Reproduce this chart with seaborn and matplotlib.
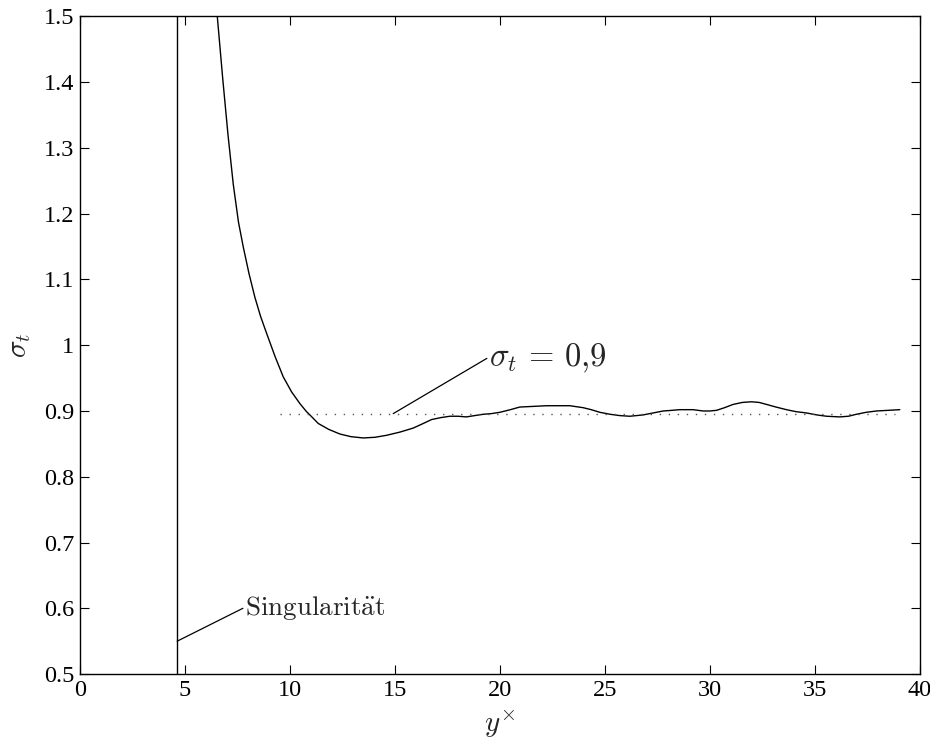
import matplotlib
matplotlib.use("Agg")
import matplotlib.pyplot as plt
import numpy as np
import pandas as pd
import seaborn as sns

# turbulent sigma_t over wall distance y^x
curve_x = [6.3, 6.54, 6.8, 7.05, 7.3, 7.55, 7.78, 8.05, 8.33, 8.6, 8.89, 9.29,
           9.68, 10.08, 10.48, 10.79, 10.95, 11.35, 11.85, 12.38, 12.9, 13.49,
           14.05, 14.6, 15.25, 15.87, 16.35, 16.75, 17.2, 17.62, 18.0, 18.41,
           18.8, 19.21, 19.6, 20.0, 20.5, 20.95, 21.6, 22.22, 22.8, 23.33,
           23.97, 24.35, 24.76, 25.25, 25.71, 26.19, 26.82, 27.3, 27.78, 28.2,
           28.57, 29.2, 29.68, 30.0, 30.32, 30.7, 31.11, 31.55, 31.98, 32.35,
           32.7, 33.15, 33.65, 34.1, 34.6, 35.1, 35.56, 36.19, 36.6, 36.98,
           37.45, 37.94, 38.5, 39.05]
curve_y = [1.59, 1.50, 1.405, 1.32, 1.245, 1.187, 1.149, 1.109, 1.073, 1.044, 1.018, 0.983,
           0.952, 0.929, 0.911, 0.899, 0.894, 0.881, 0.872, 0.865, 0.861, 0.859,
           0.860, 0.863, 0.868, 0.874, 0.881, 0.887, 0.890, 0.892, 0.892, 0.891,
           0.893, 0.895, 0.896, 0.898, 0.902, 0.906, 0.907, 0.908, 0.908, 0.908,
           0.905, 0.902, 0.898, 0.895, 0.893, 0.892, 0.894, 0.897, 0.900, 0.901,
           0.902, 0.902, 0.900, 0.900, 0.901, 0.905, 0.910, 0.913, 0.914, 0.913,
           0.910, 0.906, 0.902, 0.899, 0.897, 0.894, 0.892, 0.891, 0.892, 0.895,
           0.898, 0.900, 0.901, 0.902]

singularity_x = 4.63
ref_x = [9.52, 38.8]
ref_y = [0.895, 0.895]

sing_line_x = [4.63, 7.76]
sing_line_y = [0.55, 0.60]
sing_label = r"$\mathrm{Singularit\ddot{a}t}$"

ref_line_x = [14.92, 19.38]
ref_line_y = [0.896, 0.980]
ref_label = r"$\sigma_t\,=\,0{,}9$"

xticks = np.arange(0, 41, 5)
yticks = np.round(np.arange(0.5, 1.51, 0.1), 1)

sns.set_theme(style="ticks")
plt.rcParams["font.family"] = ["Liberation Serif", "DejaVu Serif"]
plt.rcParams["mathtext.fontset"] = "cm"
plt.rcParams["axes.linewidth"] = 1.0
plt.rcParams["xtick.direction"] = "in"
plt.rcParams["ytick.direction"] = "in"

fig = plt.figure(figsize=(9.3, 7.44), dpi=100)
ax = fig.add_axes([0.086, 0.094, 0.903, 0.884])

df = pd.DataFrame({"x": curve_x, "y": curve_y})
sns.lineplot(data=df, x="x", y="y", ax=ax, color="black", lw=1.0, sort=False)
ax.axvline(singularity_x, color="black", lw=1.0)
ax.plot(ref_x, ref_y, color="#555555", lw=1.0, ls=(0, (1, 5.5)))

# annotations
ax.plot(sing_line_x, sing_line_y, color="black", lw=0.9)
ax.text(7.86, 0.60, sing_label, ha="left", va="center", fontsize=19.5)
ax.plot(ref_line_x, ref_line_y, color="black", lw=0.9)
ax.text(19.5, 0.968, ref_label, ha="left", va="baseline", fontsize=23.5)

ax.set_xlim(0, 40)
ax.set_ylim(0.5, 1.5)
ax.set_xticks(xticks)
ax.set_yticks(yticks)
ax.set_xticklabels([str(t) for t in xticks])
ax.set_yticklabels(["1" if t == 1 else f"{t:g}" for t in yticks])
ax.tick_params(axis="both", which="both", top=True, right=True, length=6.5,
               width=0.8, labelsize=17.5, color="black", labelcolor="black", pad=4)
ax.set_xlabel(r"$y^{\times}$", fontsize=21, labelpad=6)
ax.set_ylabel(r"$\sigma_t$", fontsize=21, labelpad=8)
for s in ax.spines.values():
    s.set_visible(True)
    s.set_color("black")

fig.savefig("out.png", dpi=100)
